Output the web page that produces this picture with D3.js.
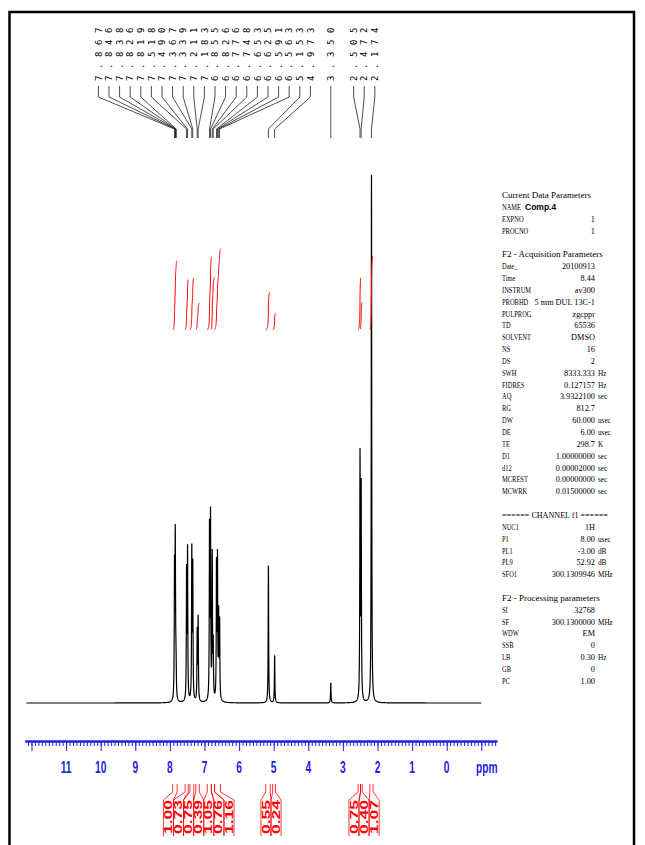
<!DOCTYPE html>
<html>
<head>
<meta charset="utf-8">
<script src="https://cdn.jsdelivr.net/npm/d3@7"></script>
<style>
body { margin: 0; background: #fff; }
svg { display: block; }
.par { font-family: "Liberation Serif", "DejaVu Serif", serif; font-size: 9px; fill: #000; }
</style>
</head>
<body>
<svg id="chart" width="645" height="845"></svg>
<script>
// peak list (ppm) and heights (tallest = 100)
var peakPpm = [7.867, 7.846, 7.838, 7.826, 7.819, 7.518, 7.490, 7.367, 7.339, 7.211, 7.183,
               6.855, 6.826, 6.776, 6.748, 6.653, 6.625, 6.591, 6.563, 5.153, 4.973, 3.350,
               2.505, 2.472, 2.174];
var peakHeight = [24, 27, 6, 4, 3, 24, 28, 28, 25, 13, 15.5,
                  32, 34, 27, 10, 25, 26, 15.5, 14.5, 26, 9, 3.8,
                  46, 40, 100];

// integral regions and their values
var integralFrom  = [7.92, 7.56, 7.42, 7.25, 6.92, 6.80, 6.71, 5.23, 5.03, 2.56, 2.49, 2.22];
var integralTo    = [7.79, 7.47, 7.31, 7.15, 6.80, 6.71, 6.54, 5.10, 4.95, 2.49, 2.44, 2.13];
var integralValue = [1.00, 0.73, 0.75, 0.39, 1.05, 0.76, 1.16, 0.55, 0.24, 0.75, 0.40, 1.07];

var tickLabels = [11, 10, 9, 8, 7, 6, 5, 4, 3, 2, 1, 0];

// parameter listing on the right: [label, value, unit]
var params = [
  ["Current Data Parameters", "", ""],
  ["NAME", "Comp.4", ""],
  ["EXPNO", "1", ""],
  ["PROCNO", "1", ""],
  ["", "", ""],
  ["F2 - Acquisition Parameters", "", ""],
  ["Date_", "20100913", ""],
  ["Time", "8.44", ""],
  ["INSTRUM", "av300", ""],
  ["PROBHD", "5 mm DUL 13C-1", ""],
  ["PULPROG", "zgcppr", ""],
  ["TD", "65536", ""],
  ["SOLVENT", "DMSO", ""],
  ["NS", "16", ""],
  ["DS", "2", ""],
  ["SWH", "8333.333", "Hz"],
  ["FIDRES", "0.127157", "Hz"],
  ["AQ", "3.9322100", "sec"],
  ["RG", "812.7", ""],
  ["DW", "60.000", "usec"],
  ["DE", "6.00", "usec"],
  ["TE", "298.7", "K"],
  ["D1", "1.00000000", "sec"],
  ["d12", "0.00002000", "sec"],
  ["MCREST", "0.00000000", "sec"],
  ["MCWRK", "0.01500000", "sec"],
  ["", "", ""],
  ["====== CHANNEL f1 ======", "", ""],
  ["NUC1", "1H", ""],
  ["P1", "8.00", "usec"],
  ["PL1", "-3.00", "dB"],
  ["PL9", "52.92", "dB"],
  ["SFO1", "300.1309946", "MHz"],
  ["", "", ""],
  ["F2 - Processing parameters", "", ""],
  ["SI", "32768", ""],
  ["SF", "300.1300000", "MHz"],
  ["WDW", "EM", ""],
  ["SSB", "0", ""],
  ["LB", "0.30", "Hz"],
  ["GB", "0", ""],
  ["PC", "1.00", ""]
];

var axisBlue = "#2222dd",
    lineWidth = 0.008; // half width of each line, ppm

var svg = d3.select("#chart");

var x = d3.scaleLinear().domain([12, 0]).range([31.5, 446.7]);
var y = d3.scaleLinear().domain([0, 100]).range([703, 175]);
var iy = d3.scaleLinear().domain([0, 1]).range([330, 260.7]);

// frame
svg.append("path")
    .attr("d", "M9.5,845V12H634V845")
    .attr("fill", "none")
    .attr("stroke", "#000")
    .attr("stroke-width", 2.5);

// spectrum built from the peak list
function intensity(p) {
    return d3.sum(peakPpm, function(c, i) {
        var u = (p - c) / lineWidth;
        return peakHeight[i] / (1 + u * u);
    });
}
var grid = d3.range(12.15, -1.0, -0.002).concat(peakPpm).sort(function(a, b) { return b - a; });
var spectrum = grid.map(function(p) { return [p, intensity(p)]; });

svg.append("path")
    .datum(spectrum)
    .attr("fill", "none")
    .attr("stroke", "#000")
    .attr("stroke-width", 1.2)
    .attr("d", d3.line().x(function(d) { return x(d[0]); }).y(function(d) { return y(d[1]); }));

// integral curves
integralValue.forEach(function(v, i) {
    var pts = spectrum.filter(function(d) { return d[0] <= integralFrom[i] && d[0] >= integralTo[i]; });
    var total = d3.sum(pts, function(d) { return d[1]; }), run = 0;
    var curve = pts.map(function(d) { run += d[1]; return [d[0], v * run / total]; });
    svg.append("path")
        .datum(curve)
        .attr("fill", "none")
        .attr("stroke", "red")
        .attr("stroke-width", 1)
        .attr("d", d3.line().x(function(d) { return x(d[0]); }).y(function(d) { return iy(d[1]); }));
});

// spread labels so they do not overlap, groups centred on their marks
function spread(xs, gap) {
    var groups = xs.map(function(v, i) { return {idx: [i], c: v}; });
    var merged = true;
    while (merged) {
        merged = false;
        for (var i = 0; i < groups.length - 1; i++) {
            var a = groups[i], b = groups[i + 1];
            var aRight = a.c + (a.idx.length - 1) * gap / 2,
                bLeft = b.c - (b.idx.length - 1) * gap / 2;
            if (aRight + gap > bLeft) {
                var idx = a.idx.concat(b.idx);
                groups.splice(i, 2, {idx: idx, c: d3.mean(idx, function(k) { return xs[k]; })});
                merged = true;
                break;
            }
        }
    }
    var out = [];
    groups.forEach(function(g) {
        g.idx.forEach(function(k, j) { out[k] = g.c + (j - (g.idx.length - 1) / 2) * gap; });
    });
    return out;
}

// peak labels on top
var peakX = peakPpm.map(function(p) { return x(p); });
var labelX = spread(peakX, 10.6);
var fmt3 = d3.format(".3f");

var peakLabels = svg.append("g");
peakPpm.forEach(function(p, i) {
    peakLabels.append("path")
        .attr("d", "M" + labelX[i] + ",86V97L" + peakX[i] + ",129V138")
        .attr("fill", "none")
        .attr("stroke", "#222")
        .attr("stroke-width", 0.8);
    peakLabels.append("text")
        .attr("transform", "translate(" + labelX[i] + ",81) rotate(-90)")
        .attr("dy", "0.36em")
        .attr("font-family", "DejaVu Sans Mono, monospace")
        .attr("font-size", 9)
        .attr("letter-spacing", 6.6)
        .attr("fill", "#000")
        .text(fmt3(p));
});

// integral labels at the bottom
var midX = integralValue.map(function(v, i) { return (x(integralFrom[i]) + x(integralTo[i])) / 2; });
var intX = spread(midX, 10.1);
var fmt2 = d3.format(".2f");
var intLabels = svg.append("g");
integralValue.forEach(function(v, i) {
    var x1 = x(integralFrom[i]), x2 = x(integralTo[i]);
    intLabels.append("path")
        .attr("d", "M" + x1 + ",784V792L" + (intX[i] - 5) + ",800V836" +
                   "M" + x2 + ",784V792L" + (intX[i] + 5) + ",800V836")
        .attr("fill", "none")
        .attr("stroke", "red")
        .attr("stroke-width", 0.8);
    intLabels.append("text")
        .attr("transform", "translate(" + intX[i] + ",834) rotate(-90) scale(1.75,1)")
        .attr("dy", "0.36em")
        .attr("font-family", "Liberation Sans, Arial, sans-serif")
        .attr("font-weight", "bold")
        .attr("font-size", 10)
        .attr("fill", "red")
        .text(fmt2(v));
});

// ppm axis
var axisScale = x.copy().domain([12.19, -1.45]).range([x(12.19), x(-1.45)]);
var axisG = svg.append("g").attr("transform", "translate(0,741)");
axisG.append("g")
    .call(d3.axisBottom(axisScale).tickValues(d3.range(121, -15, -1).map(function(v) { return v / 10; }))
        .tickSize(5).tickSizeOuter(0).tickFormat(""));
axisG.append("g")
    .call(d3.axisBottom(axisScale).tickValues(d3.range(12, -2, -1)).tickSize(10).tickSizeOuter(0).tickFormat(""));
axisG.selectAll("path.domain").attr("stroke", axisBlue).attr("stroke-width", 2);
axisG.selectAll(".tick line").attr("stroke", axisBlue).attr("stroke-width", 1);

var tickText = svg.append("g")
    .attr("font-family", "Liberation Sans, Arial, sans-serif")
    .attr("font-weight", "bold")
    .attr("font-size", 17)
    .attr("fill", axisBlue)
    .attr("text-anchor", "middle");
tickLabels.forEach(function(t) {
    tickText.append("text")
        .attr("transform", "translate(" + x(t) + ",773) scale(0.6,1)")
        .text(t);
});
tickText.append("text")
    .attr("transform", "translate(" + x(-1.16) + ",773) scale(0.6,1)")
    .text("ppm");

// parameter listing (narrow bitmap-like font, so labels and units are condensed)
var parG = svg.append("g").attr("class", "par");
params.forEach(function(r, i) {
    var yy = 198 + i * 11.85;
    var header = !r[1] && !r[2];
    if (r[0]) {
        parG.append("text")
            .attr("transform", "translate(502," + yy + ") scale(" + (header ? (r[0].charAt(0) === "=" ? 0.9 : 1) : 0.72) + ",1)")
            .text(r[0]);
    }
    if (r[0] === "NAME") {
        parG.append("text").attr("x", 525).attr("y", yy)
            .attr("font-family", "Liberation Sans, Arial, sans-serif")
            .attr("font-weight", "bold")
            .attr("font-size", 8.5)
            .text(r[1]);
    } else if (r[1]) {
        parG.append("text")
            .attr("transform", "translate(595," + yy + ") scale(0.92,1)")
            .attr("text-anchor", "end")
            .text(r[1]);
    }
    if (r[2]) {
        parG.append("text")
            .attr("transform", "translate(598," + yy + ") scale(0.8,1)")
            .text(r[2]);
    }
});
</script>
</body>
</html>
